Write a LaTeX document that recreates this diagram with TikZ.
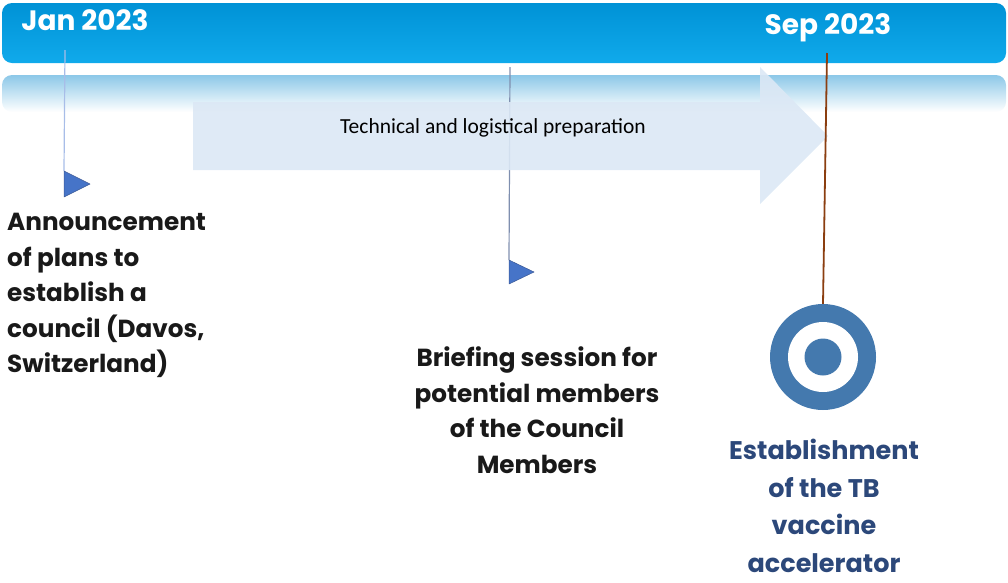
\documentclass[tikz,border=0pt]{standalone}
\usepackage{fontspec}
\newfontfamily\gothic{Poppins}
\newfontfamily\calib{Carlito}
\usetikzlibrary{positioning}
\definecolor{barTop}{RGB}{0,146,214}
\definecolor{barBot}{RGB}{16,170,235}
\definecolor{glowTop}{RGB}{140,200,232}
\definecolor{arrowFill}{RGB}{220,232,245}
\definecolor{stemA}{RGB}{168,189,232}
\definecolor{stemB}{RGB}{127,143,175}
\definecolor{stemC}{RGB}{139,62,16}
\definecolor{markBlue}{RGB}{70,116,200}
\definecolor{markEdge}{RGB}{60,90,150}
\definecolor{targetBlue}{RGB}{68,121,174}
\definecolor{titleBlue}{RGB}{44,72,122}
\begin{document}
\begin{tikzpicture}[
        x=1pt, y=-1pt,
        date/.style={font=\gothic\bfseries\fontsize{28}{30}\selectfont, text=white, inner sep=0pt},
        event/.style={font=\gothic\bfseries\fontsize{24.7}{35.5}\selectfont, text=black!90, inner sep=0pt},
        goal/.style={font=\gothic\bfseries\fontsize{25.5}{37.5}\selectfont, text=titleBlue, inner sep=0pt, align=center},
        phase/.style={font=\calib\fontsize{21.5}{24}\selectfont, text=black, inner sep=0pt},
        marker/.style={fill=markBlue, draw=markEdge, line width=0.5pt, line join=round},
        stem/.style={line width=1.2pt}
    ]
        \useasboundingbox (0,0) rectangle (1008,582);

        % Timeline bar
        \shade[top color=barTop, bottom color=barBot, rounded corners=10pt]
            (2,3) rectangle (1006,63);
        \shade[top color=glowTop, bottom color=white, rounded corners=10pt]
            (2,75) -- (2,112) -- (1006,112) -- (1006,75) -- cycle;

        % Stems (drawn below the arrow)
        \coordinate (jantop) at (65,50);
        \coordinate (midtop) at (510,67);
        \coordinate (septop) at (827,53);
        \coordinate (m1) at (64,171);
        \coordinate (m2) at (509,260);

        \draw[stem, stemA] (jantop) -- (m1);
        \draw[stem, stemB] (midtop) -- (m2);

        % Preparation arrow
        \fill[arrowFill, opacity=0.9] (193,102) -- (760,102) -- (760,67) -- (828,136)
            -- (760,204) -- (760,170) -- (193,170) -- cycle;
        \node[phase] (prep) at (493,128) {Technical and logistical preparation};

        % Markers
        \path[marker] (m1) -- ++(26,13) -- ++(-26,13) -- cycle;
        \path[marker] (m2) -- ++(25,12) -- ++(-25,12) -- cycle;

        % Target
        \node[circle, fill=targetBlue, minimum size=106pt, inner sep=0pt] (target) at (823,357) {};
        \fill[white] (target.center) circle (35);
        \fill[targetBlue] (target.center) circle (18.5);
        \draw[line width=1.8pt, stemC] (septop) -- (target.north);

        % Dates
        \node[date] (jan) at (85,20) {Jan 2023};
        \node[date] (sep) at (828,28) {Sep 2023};

        % Events
        \node[event, anchor=north west, align=left] (announce) at (7,213)
            {Announcement\\of plans to\\establish a\\council (Davos,\\Switzerland)};
        \node[event, anchor=north, align=center] (briefing) at (537,347)
            {Briefing session for\\potential members\\of the Council\\Members};
        \node[goal, anchor=north] (establish) at (824,439)
            {Establishment\\of the TB\\vaccine\\accelerator};
\end{tikzpicture}
\end{document}
